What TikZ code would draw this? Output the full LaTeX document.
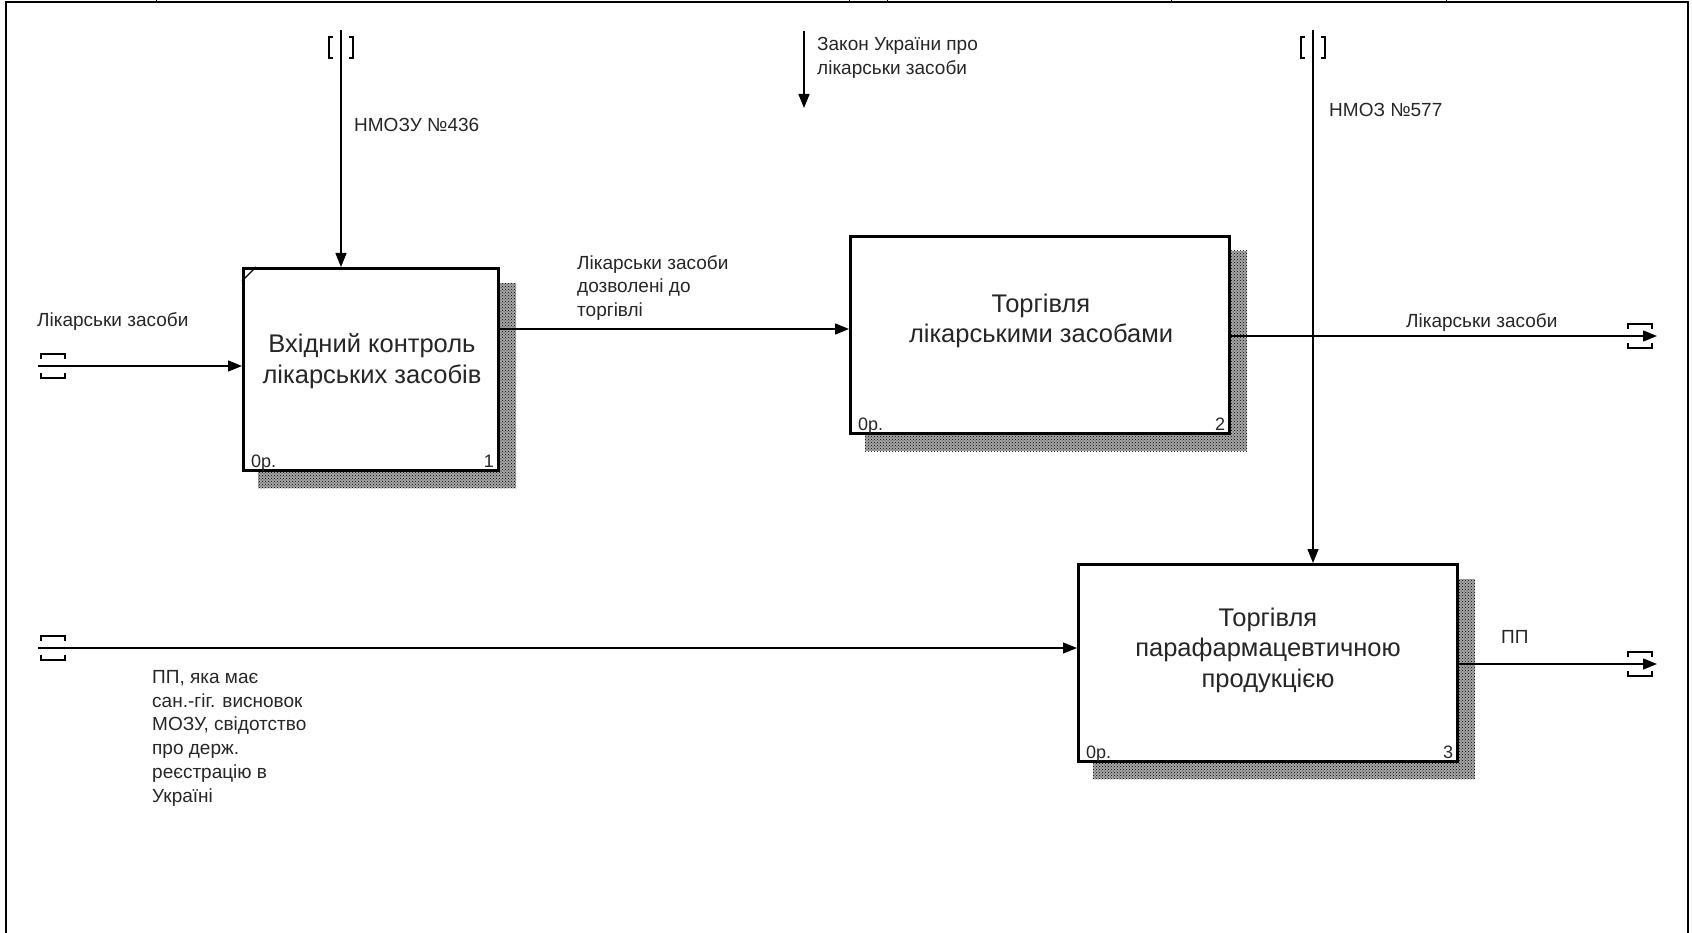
\documentclass[tikz,border=0pt]{standalone}
\usepackage{fontspec}
\setmainfont{Liberation Sans}
\usetikzlibrary{arrows.meta,calc,backgrounds,patterns,positioning}

\tikzset{
  funcbox/.style={draw, line width=3.2pt, fill=white, inner sep=0pt, anchor=north west},
  hatchshadow/.style={preaction={fill=black!35}, pattern=crosshatch dots, pattern color=black},
  flow/.style={line width=1.4pt, -{Triangle[length=14pt,width=11pt]}},
  arrlabel/.style={font=\fontsize{19}{23.8}\selectfont, align=left, inner sep=0pt, text=black!85},
  boxtitle/.style={font=\fontsize{25.5}{30.5}\selectfont, align=center, inner sep=0pt, text=black!85},
  cornerlbl/.style={font=\fontsize{18}{20}\selectfont, inner sep=0pt, text=black!85},
  tunnel/.style={line width=1.3pt}
}
% tunnel brackets at the free ends
\newcommand{\htunnel}[2]{%
  \draw[tunnel] ($(#1)+(#2,-7)$) -- ++(0,-5) -- ++(24,0) -- ++(0,5);
  \draw[tunnel] ($(#1)+(#2,7)$) -- ++(0,5) -- ++(24,0) -- ++(0,-5);}
\newcommand{\vtunnel}[1]{%
  \draw[tunnel] ($(#1)+(-8,7)$) -- ++(-4,0) -- ++(0,21) -- ++(4,0);
  \draw[tunnel] ($(#1)+(8,7)$) -- ++(4,0) -- ++(0,21) -- ++(-4,0);}

\begin{document}
\begin{tikzpicture}[x=1pt,y=-1pt] %IDEF0 A0
  \useasboundingbox (0,0) rectangle (1692,933);
  % frame
  \draw[line width=1.5pt] (6,933) -- (6,2) -- (1688,2) -- (1688,933);
  \foreach \x in {156,849,887,1171,1446}
    \draw[line width=1pt] (\x,0) -- (\x,2);

  % function boxes
  \node[funcbox, minimum width=255pt, minimum height=202pt] (b1) at (242,267) {};
  \node[funcbox, minimum width=379pt, minimum height=197pt] (b2) at (849,235) {};
  \node[funcbox, minimum width=379pt, minimum height=197pt] (b3) at (1077,563) {};
  \begin{scope}[on background layer]
    \foreach \b in {b1,b2,b3}
      \fill[hatchshadow] ($(\b.north west)+(16,16)$) rectangle ($(\b.south east)+(16,16)$);
  \end{scope}
  \draw[line width=1.3pt] ($(b1.north west)+(0,14)$) -- ($(b1.north west)+(14,0)$);

  \node[boxtitle] (t1) at (372,361) {Вхідний контроль\\лікарських засобів};
  \node[boxtitle] (t2) at (1041,321) {Торгівля\\лікарськими засобами};
  \node[boxtitle] (t3) at (1268,650) {Торгівля\\парафармацевтичною\\продукцією};
  \foreach \b/\n in {b1/1,b2/2,b3/3}{
    \node[cornerlbl, anchor=base west] at ($(\b.south west)+(9,-5)$) {0р.};
    \node[cornerlbl, anchor=base east] at ($(\b.south east)+(-6,-5)$) {\n};
  }

  % inputs
  \coordinate (in1) at (38,366);
  \draw[flow] (in1) -- (in1 -| b1.west);
  \htunnel{in1}{3}
  \node[arrlabel, anchor=west] (l1) at (37,322) {Лікарськи засоби};

  \coordinate (in2) at (38,648);
  \draw[flow] (in2) -- (in2 -| b3.west);
  \htunnel{in2}{3}
  \node[arrlabel, anchor=north west] (l6) at (152,670)
    {ПП, яка має\\сан.-гіг. висновок\\МОЗУ, свідотство\\про держ.\\реєстрацію в\\Україні};

  % controls
  \coordinate (c1) at (341,30);
  \draw[flow] (c1) -- (c1 |- b1.north);
  \vtunnel{c1}
  \node[arrlabel, anchor=west] (l2) at (354,125) {НМОЗУ №436};

  \coordinate (c2) at (804,31);
  \coordinate (c2end) at (804,108);
  \draw[flow] (c2) -- (c2end);
  \node[arrlabel, anchor=north west] (l3) at (817,37) {Закон України про\\лікарськи засоби};

  \coordinate (c3) at (1313,30);
  \draw[flow] (c3) -- (c3 |- b3.north);
  \vtunnel{c3}
  \node[arrlabel, anchor=west] (l4) at (1329,110) {НМОЗ №577};

  % box to box
  \draw[flow] ($(b1.north east)+(0,62)$) -- ($(b2.north west)+(0,94)$);
  \node[arrlabel, anchor=north west] (l5) at (577,255) {Лікарськи засоби\\дозволені до\\торгівлі};

  % outputs
  \coordinate (o1) at (1657,336);
  \draw[flow] ($(b2.north east)+(0,101)$) -- (o1);
  \htunnel{o1}{-29}
  \node[arrlabel, anchor=west] (l7) at (1406,323) {Лікарськи засоби};

  \coordinate (o2) at (1657,664);
  \draw[flow] ($(b3.north east)+(0,101)$) -- (o2);
  \htunnel{o2}{-29}
  \node[arrlabel, anchor=west] (l8) at (1501,637) {ПП};
\end{tikzpicture}
\end{document}
